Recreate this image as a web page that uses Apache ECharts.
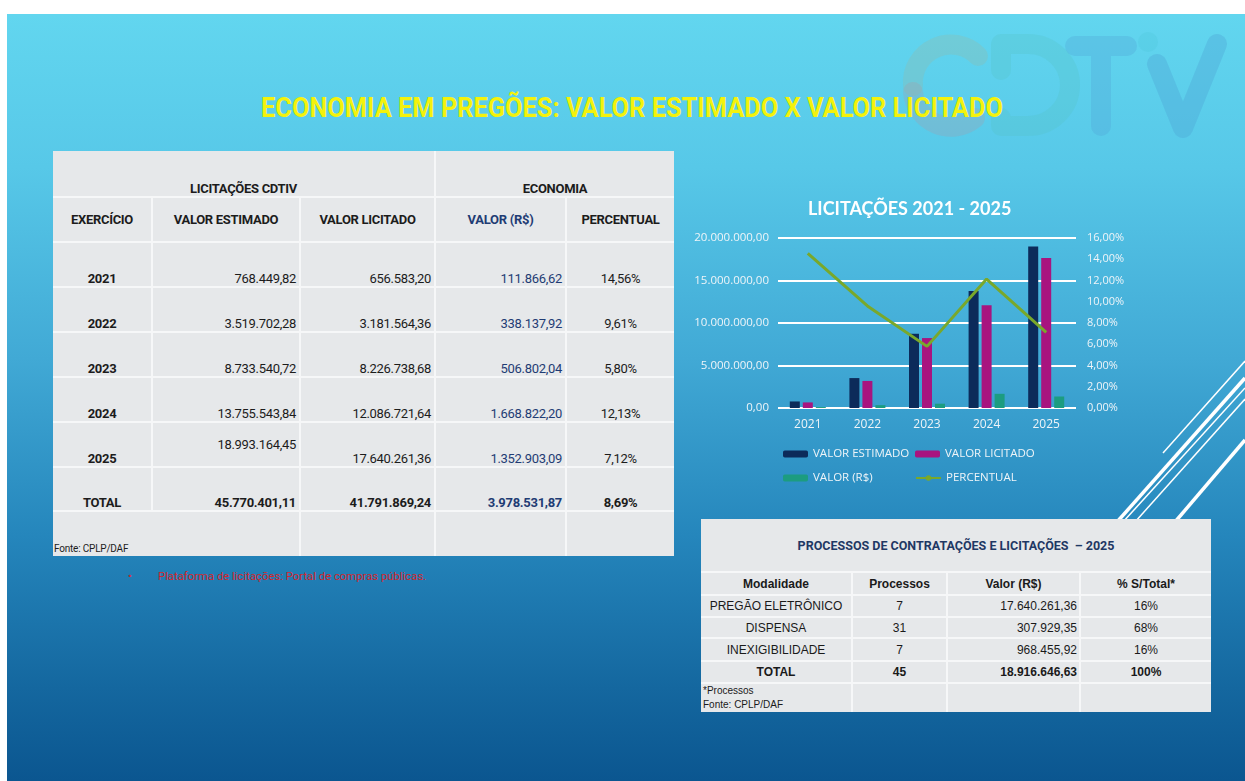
<!DOCTYPE html>
<html lang="pt">
<head>
    <meta charset="UTF-8">
    <title>Economia em pregões</title>
    <script src="https://cdn.jsdelivr.net/npm/echarts@6/dist/echarts.min.js"></script>
    <style>
        html, body { margin: 0; padding: 0; width: 1245px; height: 781px; background: #fff; overflow: hidden; }
        #slide {
            position: absolute; left: 7px; top: 14px; width: 1238px; height: 767px;
            background: linear-gradient(180deg, #62d6ef 0%, #57c8e8 20%, #41a9d5 45%, #2586bc 68%, #14679f 88%, #0b5690 100%);
            overflow: hidden;
        }
        #deco { position: absolute; left: 0; top: 0; }
        #titulo {
            position: absolute; left: 0; top: 92px; width: 1264px; text-align: center;
            font-family: Roboto, sans-serif; font-weight: bold;
            font-size: 27px; color: #f4f20c; transform: scaleX(0.94); transform-origin: 632px 0;
        }
        table { position: absolute; border-collapse: collapse; table-layout: fixed; border-style: hidden; background: #e6e8ea; }
        td { border: 2px solid #f6f7f8; padding: 0; overflow: hidden; white-space: nowrap; }
        #t1 { left: 53px; top: 151px; width: 621px; font-family: Roboto, sans-serif; font-size: 13px; letter-spacing: -0.3px; color: #1c1c1c; }
        #t1 .b { font-weight: bold; }
        #t1 .c { text-align: center; }
        #t1 .r { text-align: right; padding-right: 3px; }
        #t1 .eco { color: #1f3c74; }
        #t1 td { vertical-align: bottom; padding-bottom: 0px; }
        #t1 .mid { vertical-align: middle; }
        #t1 .fonte { font-size: 10px; letter-spacing: -0.2px; padding-left: 1px; padding-bottom: 2px; }
        #t2 { left: 701px; top: 519px; width: 510px; font-family: "Liberation Sans", Arial, sans-serif; font-size: 12px; color: #1a1a1a; }
        #t2 td { vertical-align: middle; text-align: center; }
        #t2 .tt { font-family: Roboto, sans-serif; font-weight: bold; font-size: 12.5px; color: #1f3864; }
        #t2 .b { font-weight: bold; }
        #t2 .r { text-align: right; padding-right: 2px; }
        #t2 .nota { text-align: left; font-size: 10px; line-height: 14px; padding-left: 2px; }
        .nota1 { position: absolute; top: 570px; font-family: Roboto, sans-serif; font-size: 11.3px; color: #d3262c; }
        #main { position: absolute; left: 680px; top: 190px; width: 470px; height: 310px; }
    </style>
</head>
<body>
<div id="slide"></div>
<svg id="deco" width="1245" height="781">
    <!-- logo em marca d'agua -->
    <g fill="none" stroke-width="20" stroke-linecap="round" stroke-linejoin="round">
        <path d="M978,56 A38,38 0 0 0 913,86" stroke="rgba(150,185,165,0.30)"/>
        <path d="M913,92 A38,38 0 0 0 975,118" stroke="rgba(190,140,150,0.22)"/>
        <path d="M1001,70 L1001,44 L1028,44 A42,41 0 0 1 1028,126 L1001,126 L1001,118" stroke="rgba(85,195,200,0.30)"/>
        <path d="M1075,46 L1127,46 M1101,46 L1101,126" stroke="rgba(80,165,215,0.32)"/>
        <path d="M1157,64 L1183,128 L1217,44" stroke="rgba(75,160,210,0.34)"/>
    </g>
    <circle cx="1148" cy="42" r="10" fill="rgba(80,200,220,0.35)"/>
    <!-- linhas diagonais -->
    <g stroke="#ffffff">
        <line x1="1163" y1="453" x2="1245" y2="361" stroke-width="1.5"/>
        <line x1="1117" y1="522" x2="1245" y2="378" stroke-width="3.5"/>
        <line x1="1123" y1="522" x2="1245" y2="388" stroke-width="1.5"/>
        <line x1="1135" y1="522" x2="1245" y2="399" stroke-width="1.5"/>
        <line x1="1175" y1="522" x2="1245" y2="440" stroke-width="3.5"/>
    </g>
</svg>
<div id="titulo">ECONOMIA EM PREGÕES: VALOR ESTIMADO X VALOR LICITADO</div>
<table id="t1"></table>
<div class="nota1" style="left:128px">&bull;</div>
<div class="nota1" style="left:158px">Plataforma de licitações: Portal de compras públicas.</div>
<table id="t2"></table>
<div id="main"></div>
<script>
    // dados da tabela e do gráfico
    var anos = ['2021', '2022', '2023', '2024', '2025'];
    var valorEstimado = [768449.82, 3519702.28, 8733540.72, 13755543.84, 18993164.45];
    var valorLicitado = [656583.20, 3181564.36, 8226738.68, 12086721.64, 17640261.36];
    var valorEconomia = [111866.62, 338137.92, 506802.04, 1668822.20, 1352903.09];
    var percentual = [14.56, 9.61, 5.80, 12.13, 7.12];
    var totais = ['45.770.401,11', '41.791.869,24', '3.978.531,87', '8,69%'];

    // processos 2025
    var modalidades = ['PREGÃO ELETRÔNICO', 'DISPENSA', 'INEXIGIBILIDADE'];
    var processos = [7, 31, 7];
    var valoresProc = ['17.640.261,36', '307.929,35', '968.455,92'];
    var pctTotal = ['16%', '68%', '16%'];
    var totalProc = ['TOTAL', '45', '18.916.646,63', '100%'];

    // formata 1234567.8 -> 1.234.567,80
    function fmt(n) {
        var p = n.toFixed(2).split('.');
        return p[0].replace(/\B(?=(\d{3})+(?!\d))/g, '.') + ',' + p[1];
    }
    function pct(v) {
        return v.toFixed(2).replace('.', ',') + '%';
    }

    // tabela da esquerda
    var h = '<colgroup><col style="width:99px"><col style="width:148px"><col style="width:135px"><col style="width:131px"><col style="width:108px"></colgroup>';
    h += '<tr style="height:46px"><td colspan="3" class="b c">LICITAÇÕES CDTIV</td><td colspan="2" class="b c">ECONOMIA</td></tr>';
    h += '<tr style="height:45px"><td class="b c mid">EXERCÍCIO</td><td class="b c mid">VALOR ESTIMADO</td><td class="b c mid">VALOR LICITADO</td><td class="b c mid eco">VALOR (R$)</td><td class="b c mid">PERCENTUAL</td></tr>';
    for (var i = 0; i < anos.length; i++) {
        var ultimo = i === anos.length - 1;
        h += '<tr style="height:45px"><td class="b c">' + anos[i] + '</td>' +
            '<td class="r' + (ultimo ? ' mid' : '') + '">' + fmt(valorEstimado[i]) + '</td>' +
            '<td class="r">' + fmt(valorLicitado[i]) + '</td>' +
            '<td class="r eco">' + fmt(valorEconomia[i]) + '</td>' +
            '<td class="c">' + pct(percentual[i]) + '</td></tr>';
    }
    h += '<tr style="height:44px"><td class="b c">TOTAL</td><td class="b r">' + totais[0] + '</td><td class="b r">' + totais[1] +
        '</td><td class="b r eco">' + totais[2] + '</td><td class="b c">' + totais[3] + '</td></tr>';
    h += '<tr style="height:45px"><td colspan="2" class="fonte">Fonte: CPLP/DAF</td><td></td><td></td><td></td></tr>';
    document.getElementById('t1').innerHTML = h;

    // tabela da direita
    var h2 = '<colgroup><col style="width:151px"><col style="width:95px"><col style="width:133px"><col style="width:131px"></colgroup>';
    h2 += '<tr style="height:53px"><td colspan="4" class="tt">PROCESSOS DE CONTRATAÇÕES E LICITAÇÕES &nbsp;– 2025</td></tr>';
    h2 += '<tr style="height:23px"><td class="b">Modalidade</td><td class="b">Processos</td><td class="b">Valor (R$)</td><td class="b">% S/Total*</td></tr>';
    var alturas = [22, 21, 23];
    for (var j = 0; j < modalidades.length; j++) {
        h2 += '<tr style="height:' + alturas[j] + 'px"><td>' + modalidades[j] + '</td><td>' + processos[j] +
            '</td><td class="r">' + valoresProc[j] + '</td><td>' + pctTotal[j] + '</td></tr>';
    }
    h2 += '<tr style="height:22px"><td class="b">' + totalProc[0] + '</td><td class="b">' + totalProc[1] +
        '</td><td class="b r">' + totalProc[2] + '</td><td class="b">' + totalProc[3] + '</td></tr>';
    h2 += '<tr style="height:29px"><td class="nota">*Processos<br>Fonte: CPLP/DAF</td><td></td><td></td><td></td></tr>';
    document.getElementById('t2').innerHTML = h2;

    // gráfico
    var corTexto = '#eef4f8';
    var myChart = echarts.init(document.getElementById('main'));
    function legenda(nome, left, top) {
        return {
            data: [nome], left: left, top: top, padding: 0,
            itemWidth: 25, itemHeight: 7,
            textStyle: { color: corTexto, fontSize: 11.5, fontFamily: 'Open Sans' }
        };
    }
    var option = {
        textStyle: { fontFamily: 'Open Sans' },
        title: {
            text: 'LICITAÇÕES 2021 - 2025', left: 128, top: 10, padding: 0,
            textStyle: { color: '#ffffff', fontFamily: 'Lato', fontWeight: 'bold', fontSize: 18 }
        },
        grid: { left: 98, right: 74, top: 48, bottom: 92, outerBoundsMode: 'none' },
        legend: [
            legenda('VALOR ESTIMADO', 103, 258),
            legenda('VALOR LICITADO', 235, 258),
            legenda('VALOR (R$)', 103, 282),
            legenda('PERCENTUAL', 235, 282)
        ],
        xAxis: {
            type: 'category', data: anos,
            axisLine: { show: false }, axisTick: { show: false },
            axisLabel: { color: corTexto, fontSize: 12, margin: 11 }
        },
        yAxis: [
            {
                type: 'value', min: 0, max: 20000000, interval: 5000000,
                axisLine: { show: false }, axisTick: { show: false },
                axisLabel: { color: corTexto, fontSize: 11.5, margin: 9, formatter: function (v) { return fmt(v); } },
                splitLine: { lineStyle: { color: '#ffffff', width: 2 } }
            },
            {
                type: 'value', min: 0, max: 16, interval: 2, position: 'right',
                axisLine: { show: false }, axisTick: { show: false },
                axisLabel: { color: corTexto, fontSize: 11, margin: 11, formatter: function (v) { return pct(v); } },
                splitLine: { show: false }
            }
        ],
        series: [
            { name: 'VALOR ESTIMADO', type: 'bar', data: valorEstimado, barWidth: 10, barGap: '30%', itemStyle: { color: '#0c2b5a' } },
            { name: 'VALOR LICITADO', type: 'bar', data: valorLicitado, barWidth: 10, barGap: '30%', itemStyle: { color: '#a8147f' } },
            { name: 'VALOR (R$)', type: 'bar', data: valorEconomia, barWidth: 10, barGap: '30%', itemStyle: { color: '#1c9c80' } },
            {
                name: 'PERCENTUAL', type: 'line', yAxisIndex: 1, data: percentual, symbol: 'none',
                lineStyle: { color: '#79a82b', width: 3 }, itemStyle: { color: '#79a82b' }
            }
        ]
    };
    myChart.setOption(option);
</script>
</body>
</html>
